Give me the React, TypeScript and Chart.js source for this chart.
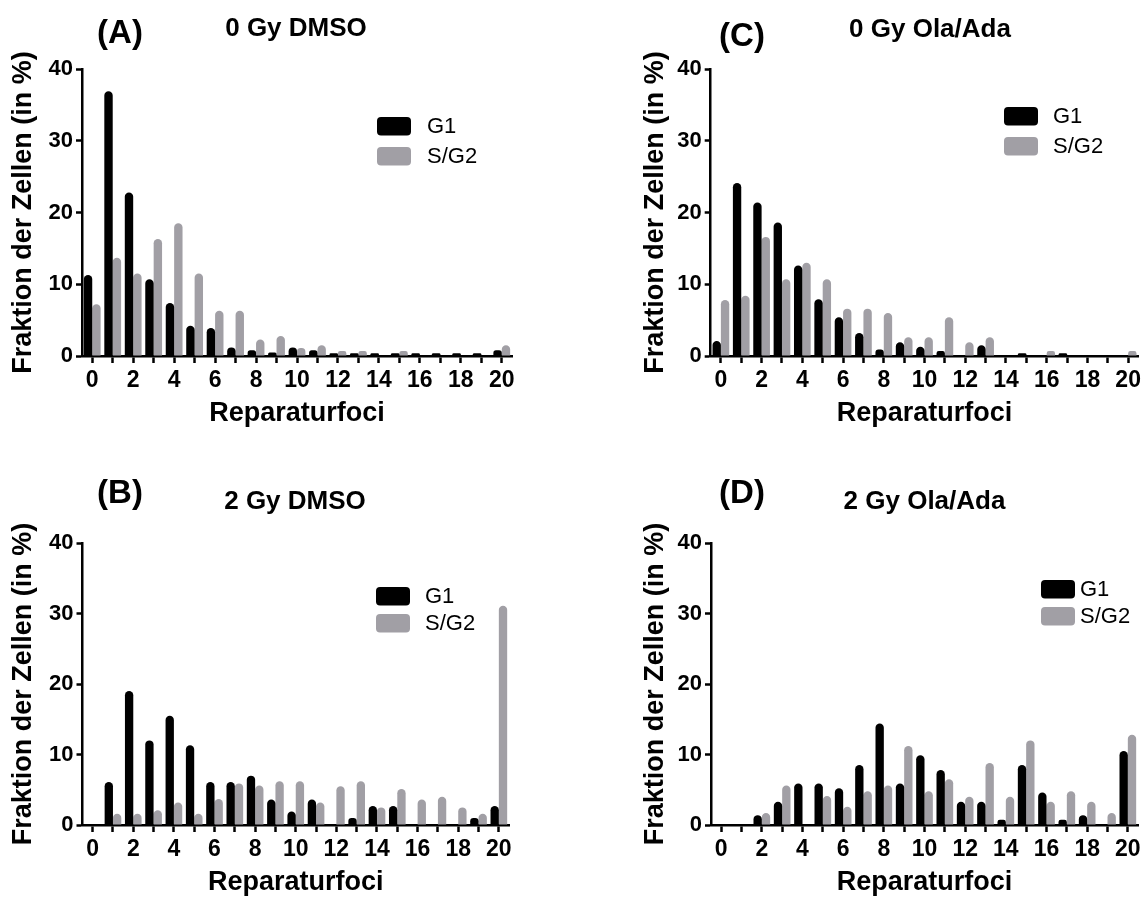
import React, { useEffect, useRef } from 'react';
import { Chart, registerables } from 'chart.js';

Chart.register(...registerables);

// ---------- data ----------
const categories = ['0', '1', '2', '3', '4', '5', '6', '7', '8', '9', '10', '11', '12', '13', '14', '15', '16', '17', '18', '19', '20'];
const yTickValues = [0, 10, 20, 30, 40];
const seriesNames = ['G1', 'S/G2'];

// (A) 0 Gy DMSO
const dmso0G1 = [11.3, 36.9, 22.8, 10.7, 7.4, 4.2, 3.9, 1.2, 0.8, 0.5, 1.2, 0.8, 0.4, 0.4, 0.4, 0.4, 0.4, 0.4, 0.4, 0.4, 0.8];
const dmso0SG2 = [7.2, 13.7, 11.5, 16.3, 18.5, 11.5, 6.3, 6.3, 2.3, 2.8, 1.1, 1.5, 0.7, 0.7, 0, 0.7, 0, 0, 0, 0, 1.5];
// (C) 0 Gy Ola/Ada
const ola0G1 = [2.1, 24.1, 21.4, 18.6, 12.6, 7.9, 5.4, 3.2, 0.9, 1.9, 1.3, 0.7, 0, 1.5, 0, 0.4, 0, 0.4, 0, 0, 0];
const ola0SG2 = [7.8, 8.4, 16.6, 10.7, 13.0, 10.7, 6.6, 6.6, 6.0, 2.6, 2.6, 5.4, 1.9, 2.6, 0, 0, 0.7, 0, 0, 0, 0.7];
// (B) 2 Gy DMSO
const dmso2G1 = [0, 6.1, 19.0, 12.0, 15.5, 11.3, 6.1, 6.1, 7.0, 3.6, 1.9, 3.6, 0, 1.0, 2.7, 2.7, 0, 0, 0, 1.0, 2.7];
const dmso2SG2 = [0, 1.6, 1.6, 2.1, 3.2, 1.6, 3.7, 5.9, 5.6, 6.2, 6.2, 3.2, 5.5, 6.2, 2.5, 5.1, 3.6, 4.0, 2.5, 1.6, 31.1];
// (D) 2 Gy Ola/Ada
const ola2G1 = [0, 0, 1.4, 3.3, 5.9, 5.9, 5.2, 8.5, 14.4, 5.9, 9.9, 7.8, 3.3, 3.3, 0.75, 8.5, 4.6, 0.75, 1.4, 0, 10.5];
const ola2SG2 = [0, 0, 1.7, 5.6, 0, 4.1, 2.6, 4.8, 5.6, 11.2, 4.8, 6.5, 4.0, 8.8, 4.0, 12.0, 3.3, 4.8, 3.3, 1.7, 12.8];

const xTitle = 'Reparaturfoci';
const yTitle = 'Fraktion der Zellen (in %)';

// ---------- styles ----------
const BLACK = '#000000';
const GREY = '#a19fa5';
const FONT = '"Liberation Sans", Arial, Helvetica, sans-serif';

type PanelCfg = {
  letter: string;
  title: string;
  g1: number[];
  sg2: number[];
  x: number; y: number; w: number; h: number; // canvas placement (page coords)
  area: { l: number; t: number; r: number; b: number }; // chart area (page coords)
  yTitleX: number; // centre of y title (page coords)
  xTitleY: number; // centre of x title (page coords)
  letterPos: [number, number];
  titlePos: [number, number];
  legendBoxX: number;
  legendTextX: number;
  legendY: [number, number];
};

const panels: PanelCfg[] = [
  {
    letter: '(A)', title: '0 Gy DMSO', g1: dmso0G1, sg2: dmso0SG2,
    x: 0, y: 0, w: 572, h: 450,
    area: { l: 82, t: 69, r: 512, b: 356 },
    yTitleX: 24, xTitleY: 414,
    letterPos: [120, 34], titlePos: [296, 28.5],
    legendBoxX: 377, legendTextX: 427, legendY: [117, 147],
  },
  {
    letter: '(C)', title: '0 Gy Ola/Ada', g1: ola0G1, sg2: ola0SG2,
    x: 572, y: 0, w: 573, h: 450,
    area: { l: 710.7, t: 69, r: 1142.6, b: 356 },
    yTitleX: 656, xTitleY: 414,
    letterPos: [742, 37], titlePos: [930, 29.5],
    legendBoxX: 1004, legendTextX: 1053, legendY: [107, 137],
  },
  {
    letter: '(B)', title: '2 Gy DMSO', g1: dmso2G1, sg2: dmso2SG2,
    x: 0, y: 450, w: 572, h: 447,
    area: { l: 82.5, t: 543, r: 509, b: 825 },
    yTitleX: 24, xTitleY: 883,
    letterPos: [120, 494], titlePos: [295, 501.5],
    legendBoxX: 376, legendTextX: 425, legendY: [587, 614],
  },
  {
    letter: '(D)', title: '2 Gy Ola/Ada', g1: ola2G1, sg2: ola2SG2,
    x: 572, y: 450, w: 573, h: 447,
    area: { l: 711, t: 543, r: 1138, b: 825 },
    yTitleX: 656, xTitleY: 883,
    letterPos: [742, 494], titlePos: [924.5, 501.5],
    legendBoxX: 1041, legendTextX: 1080, legendY: [580, 607],
  },
];

const TITLE_SIZE = 27;
const HALF_LH = TITLE_SIZE / 2; // lineHeight 1

function roundRect(ctx: CanvasRenderingContext2D, x: number, y: number, w: number, h: number, r: number) {
  ctx.beginPath();
  ctx.moveTo(x + r, y);
  ctx.lineTo(x + w - r, y);
  ctx.arcTo(x + w, y, x + w, y + r, r);
  ctx.lineTo(x + w, y + h - r);
  ctx.arcTo(x + w, y + h, x + w - r, y + h, r);
  ctx.lineTo(x + r, y + h);
  ctx.arcTo(x, y + h, x, y + h - r, r);
  ctx.lineTo(x, y + r);
  ctx.arcTo(x, y, x + r, y, r);
  ctx.closePath();
}

function Panel({ cfg }: { cfg: PanelCfg }) {
  const ref = useRef<HTMLCanvasElement>(null);

  useEffect(() => {
    const canvas = ref.current;
    if (!canvas) return;
    const relL = cfg.area.l - cfg.x;
    const relR = cfg.area.r - cfg.x;
    const relT = cfg.area.t - cfg.y;
    const relB = cfg.area.b - cfg.y;
    const scaleLeft = cfg.yTitleX - cfg.x - HALF_LH;
    const yW = relL - scaleLeft;
    const scaleBottom = cfg.xTitleY - cfg.y + HALF_LH;
    const xH = scaleBottom - relB;

    const decor = {
      id: 'decor',
      afterDraw(chart: any) {
        const ctx = chart.ctx as CanvasRenderingContext2D;
        ctx.save();
        ctx.fillStyle = BLACK;
        ctx.textBaseline = 'middle';
        ctx.textAlign = 'center';
        ctx.font = `bold 33px ${FONT}`;
        ctx.fillText(cfg.letter, cfg.letterPos[0] - cfg.x, cfg.letterPos[1] - cfg.y);
        ctx.font = `bold 26px ${FONT}`;
        ctx.fillText(cfg.title, cfg.titlePos[0] - cfg.x, cfg.titlePos[1] - cfg.y);
        // legend
        ctx.textAlign = 'left';
        ctx.font = `22px ${FONT}`;
        chart.data.datasets.forEach((ds: any, i: number) => {
          const by = cfg.legendY[i] - cfg.y;
          ctx.fillStyle = ds.backgroundColor;
          roundRect(ctx, cfg.legendBoxX - cfg.x, by, 34, 18.5, 4);
          ctx.fill();
          ctx.fillStyle = BLACK;
          ctx.fillText(ds.label, cfg.legendTextX - cfg.x, by + 10);
        });
        ctx.restore();
      },
    };

    const barCommon = {
      borderRadius: 4.5,
      borderSkipped: 'bottom' as const,
      categoryPercentage: 0.82,
      barPercentage: 1.0,
    };

    const chart = new Chart(canvas, {
      type: 'bar',
      data: {
        labels: categories,
        datasets: [
          { label: seriesNames[0], data: cfg.g1, backgroundColor: BLACK, ...barCommon },
          { label: seriesNames[1], data: cfg.sg2, backgroundColor: GREY, ...barCommon },
        ],
      },
      options: {
        animation: false,
        responsive: false,
        events: [],
        layout: {
          padding: {
            left: scaleLeft,
            top: relT,
            right: cfg.w - relR,
            bottom: cfg.h - scaleBottom,
          },
        },
        plugins: {
          legend: { display: false },
          tooltip: { enabled: false },
          title: { display: false },
        },
        scales: {
          x: {
            type: 'category',
            offset: true,
            grid: {
              display: true,
              drawOnChartArea: false,
              drawTicks: true,
              tickLength: 7,
              tickWidth: 2.5,
              tickColor: BLACK,
              offset: false,
            },
            border: { display: true, color: BLACK, width: 2.5 },
            ticks: {
              autoSkip: false,
              maxRotation: 0,
              minRotation: 0,
              padding: 4,
              color: BLACK,
              font: { family: FONT, size: 23, weight: 'bold' },
              callback: (_v: any, i: number) => (i % 2 === 0 ? categories[i] : ''),
            },
            title: {
              display: true,
              text: xTitle,
              color: BLACK,
              padding: 0,
              font: { family: FONT, size: TITLE_SIZE, weight: 'bold', lineHeight: 1 },
            },
            afterFit: (s: any) => { s.height = xH; },
          },
          y: {
            min: 0,
            max: 40,
            afterBuildTicks: (s: any) => { s.ticks = yTickValues.map((v) => ({ value: v })); },
            grid: {
              display: true,
              drawOnChartArea: false,
              drawTicks: true,
              tickLength: 6,
              tickWidth: 2.5,
              tickColor: BLACK,
            },
            border: { display: true, color: BLACK, width: 2.5 },
            ticks: {
              padding: 3,
              color: BLACK,
              font: { family: FONT, size: 22, weight: 'bold' },
            },
            title: {
              display: true,
              text: yTitle,
              color: BLACK,
              padding: 0,
              font: { family: FONT, size: TITLE_SIZE, weight: 'bold', lineHeight: 1 },
            },
            afterFit: (s: any) => { s.width = yW; },
          },
        },
      } as any,
      plugins: [decor],
    });
    return () => chart.destroy();
  }, [cfg]);

  return (
    <canvas
      ref={ref}
      width={cfg.w}
      height={cfg.h}
      style={{ position: 'absolute', left: cfg.x, top: cfg.y, width: cfg.w, height: cfg.h, display: 'block' }}
    />
  );
}

export default function App() {
  return (
    <div style={{ position: 'absolute', left: 0, top: 0, width: 1145, height: 897, overflow: 'hidden', background: '#ffffff' }}>
      {panels.map((p) => (
        <Panel key={p.letter} cfg={p} />
      ))}
    </div>
  );
}
